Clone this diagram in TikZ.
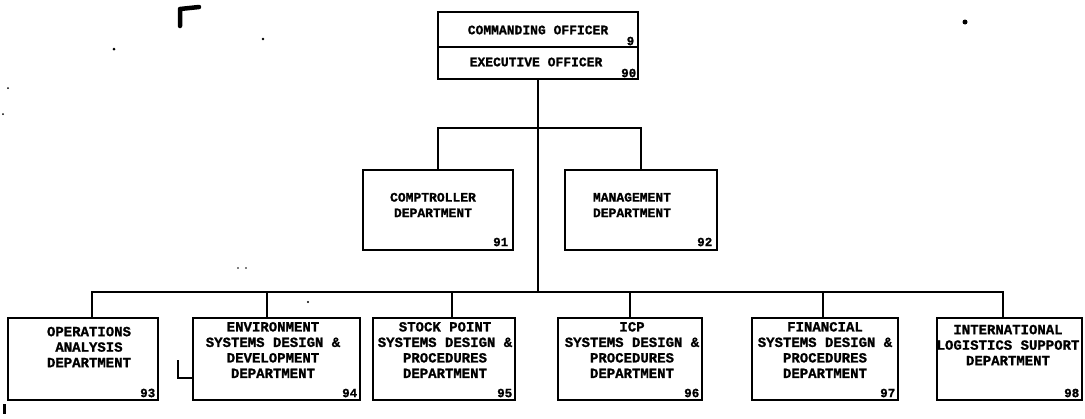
\documentclass[tikz,border=0pt]{standalone}
\usepackage{fontspec}
\setmonofont{Liberation Mono}[BoldFeatures={FakeBold=1.2}]
\begin{document}
\begin{tikzpicture}[x=1pt,y=-1pt,
  box/.style={draw, line width=2.9pt, rectangle, inner sep=0pt},
  conn/.style={line width=2.5pt},
  lbl/.style={font=\ttfamily\bfseries\fontsize{13}{15.5}\selectfont, align=center, inner sep=0pt},
  blbl/.style={font=\ttfamily\bfseries\fontsize{14}{15.5}\selectfont, align=center, inner sep=0pt},
  num/.style={font=\ttfamily\bfseries\fontsize{12.5}{12.5}\selectfont, inner sep=0pt, anchor=south east},
  speck/.style={fill=black, draw=none}]
\useasboundingbox (0,0) rectangle (1085,418);

% top box
\node[box, minimum width=200, minimum height=35] (co) at (538,29.5) {};
\node[box, minimum width=200, minimum height=32] (xo) at (538,63) {};
\node[lbl] (tco) at (538,30) {COMMANDING OFFICER};
\node[lbl] (txo) at (536,62) {EXECUTIVE OFFICER};
\node[num] (n9) at ([xshift=-5,yshift=3]co.south east) {9};
\node[num] (n90) at ([xshift=-3,yshift=3]xo.south east) {90};

% middle boxes
\node[box, minimum width=150, minimum height=80] (comp) at (438,210) {};
\node[box, minimum width=152, minimum height=80] (mgmt) at (641,210) {};
\node[lbl] (tcomp) at (433,205) {COMPTROLLER\\DEPARTMENT};
\node[lbl] (tmgmt) at (632,205) {MANAGEMENT\\DEPARTMENT};
\node[num] (n91) at ([xshift=-6,yshift=5]comp.south east) {91};
\node[num] (n92) at ([xshift=-6,yshift=5]mgmt.south east) {92};

% bottom boxes
\node[box, minimum width=150, minimum height=82] (b1) at (83,359) {};
\node[box, minimum width=167, minimum height=82] (b2) at (276.5,359) {};
\node[box, minimum width=142, minimum height=82] (b3) at (444,359) {};
\node[box, minimum width=144, minimum height=82] (b4) at (630,359) {};
\node[box, minimum width=146, minimum height=82] (b5) at (825,359) {};
\node[box, minimum width=145, minimum height=82] (b6) at (1009.5,359) {};

\node[blbl] (t1) at (89,347) {OPERATIONS\\ANALYSIS\\DEPARTMENT};
\node[blbl] (t2) at (273,350) {ENVIRONMENT\\SYSTEMS DESIGN \&\\DEVELOPMENT\\DEPARTMENT};
\node[blbl] (t3) at (445,350) {STOCK POINT\\SYSTEMS DESIGN \&\\PROCEDURES\\DEPARTMENT};
\node[blbl] (t4) at (632,350) {ICP\\SYSTEMS DESIGN \&\\PROCEDURES\\DEPARTMENT};
\node[blbl] (t5) at (825,350) {FINANCIAL\\SYSTEMS DESIGN \&\\PROCEDURES\\DEPARTMENT};
\node[blbl] (t6) at (1008,345) {INTERNATIONAL\\LOGISTICS SUPPORT\\DEPARTMENT};

\node[num] (n93) at ([xshift=-4,yshift=4]b1.south east) {93};
\node[num] (n94) at ([xshift=-4,yshift=4]b2.south east) {94};
\node[num] (n95) at ([xshift=-4,yshift=4]b3.south east) {95};
\node[num] (n96) at ([xshift=-4,yshift=4]b4.south east) {96};
\node[num] (n97) at ([xshift=-4,yshift=4]b5.south east) {97};
\node[num] (n98) at ([xshift=-4,yshift=4]b6.south east) {98};

% connectors
\coordinate (br) at (538,128);
\coordinate (bus) at (538,292);
\draw[conn] (xo.south) -- (bus);
\draw[conn] (comp.north) |- (br) -| (mgmt.north);
\draw[conn] ([xshift=9]b1.north) |- (bus) -| ([xshift=-6.5]b6.north);
\draw[conn] ([xshift=-9.5]b2.north) -- ([xshift=-9.5]b2.north |- bus);
\draw[conn] ([xshift=8]b3.north) -- ([xshift=8]b3.north |- bus);
\draw[conn] (b4.north) -- (b4.north |- bus);
\draw[conn] ([xshift=-2]b5.north) -- ([xshift=-2]b5.north |- bus);

% scan marks
\draw[line width=4.5pt, line cap=round, line join=round] (180,26) -- (180,9) -- (199,7);
\draw[line width=1.6pt] (178,360) -- (178,378) -- (193,378);
\fill[speck] (114,49) circle (1.5);
\fill[speck] (263,39) circle (1.3);
\fill[speck] (8,88) circle (1);
\fill[speck] (3,114) circle (1);
\fill[speck] (965,22) circle (2.5);
\fill[speck] (238,268) circle (0.9);
\fill[speck] (246,268) circle (0.9);
\fill[speck] (308,302) circle (1.2);
\fill[speck] (3,404) rectangle (6,414);
\end{tikzpicture}
\end{document}
